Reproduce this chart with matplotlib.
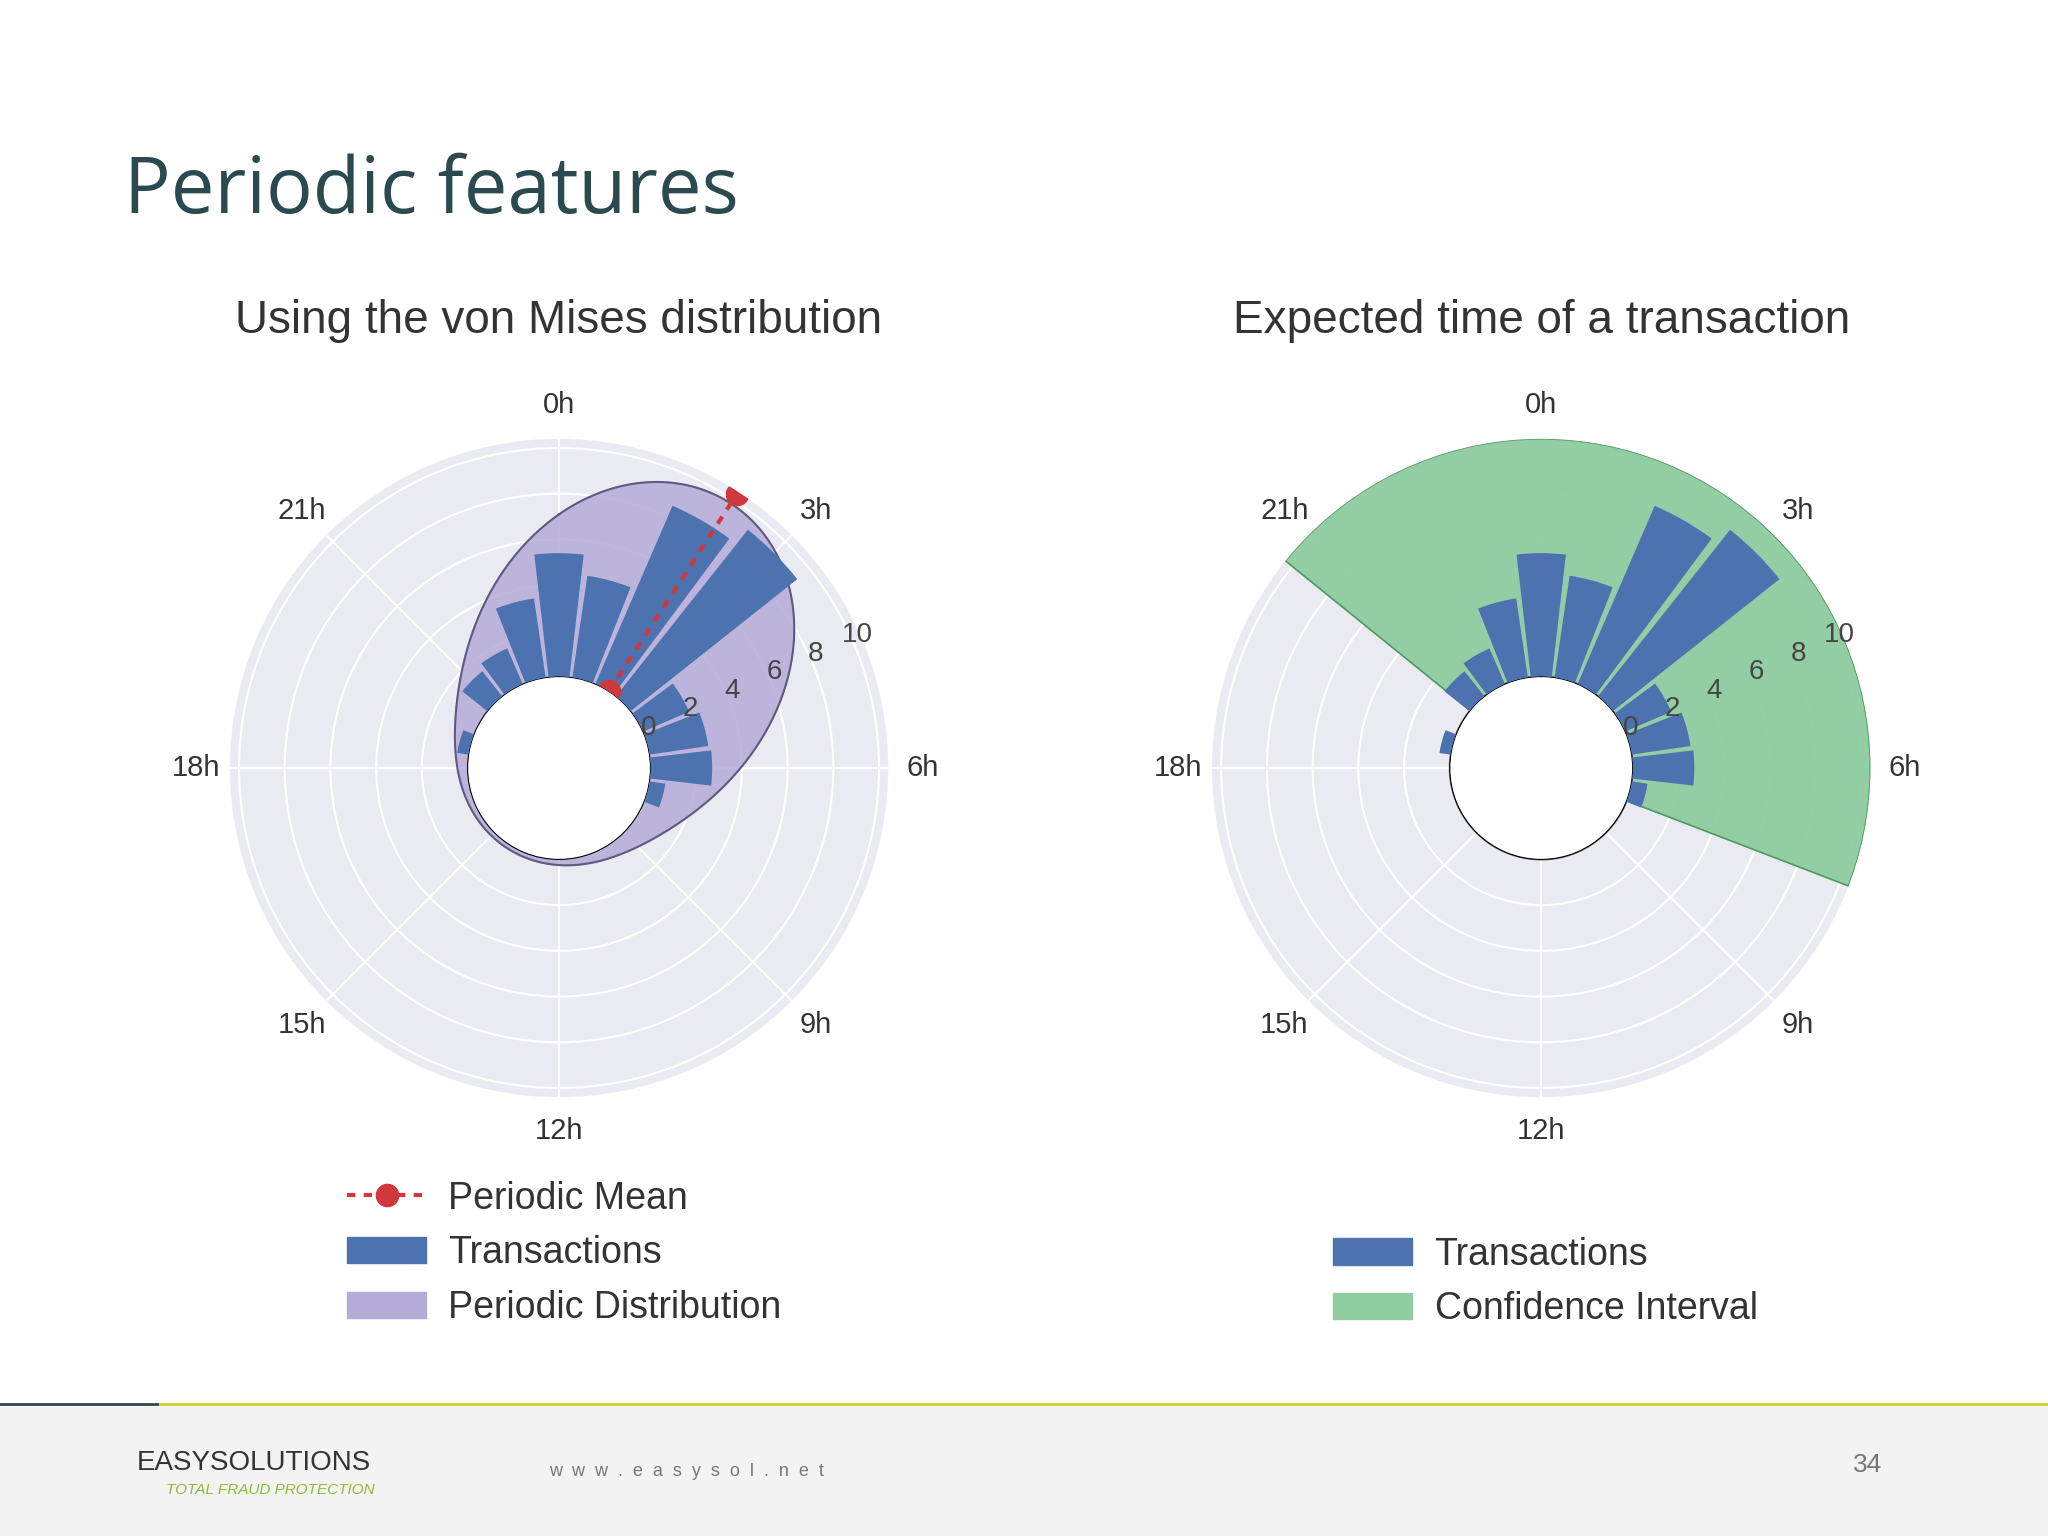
import numpy as np
import matplotlib
matplotlib.use("Agg")
from matplotlib import pyplot as plt
from matplotlib.patches import Patch, Rectangle
from matplotlib.lines import Line2D

# transactions per hour
hours = [19, 21, 22, 23, 0, 1, 2, 3, 4, 5, 6, 7]
counts = [0.5, 1.4, 1.7, 3.5, 5.4, 4.5, 8.5, 9.3, 2.2, 2.6, 2.7, 0.7]

# von Mises fit
vm_mean_h = 2.2
vm_peak = 9.8
vm_kappa = 2.0

# confidence interval (hours)
ci_start_h = 20.6
ci_end_h = 7.4

theta_labels = ['0h', '3h', '6h', '9h', '12h', '15h', '18h', '21h']
r_ticks = [0, 2, 4, 6, 8, 10]

blue = '#4C72B0'
purple = '#B4ABD6'
green = '#8FCC9F'
red = '#D0383D'
face = '#EAEAF2'

plt.rcParams['font.family'] = ['Liberation Sans', 'DejaVu Sans']

fig = plt.figure(figsize=(20.48, 15.36), dpi=100)
W, H = 1568, 1176


def h2rad(h):
    return np.asarray(h) * 2 * np.pi / 24


def make_polar(cx, cy, rad):
    ax = fig.add_axes([(cx - rad) / W, 1 - (cy + rad) / H, 2 * rad / W, 2 * rad / H],
                      projection='polar')
    ax.set_facecolor(face)
    ax.set_theta_zero_location('N')
    ax.set_theta_direction(-1)
    ax.set_rorigin(-4.0)
    ax.set_ylim(0, 10.4)
    ax.set_xticks(h2rad(np.arange(0, 24, 3)))
    ax.set_xticklabels(theta_labels, fontsize=21, color='#333333')
    ax.tick_params(axis='x', pad=14)
    ax.set_yticks(r_ticks)
    ax.set_yticklabels([])
    for t in r_ticks:
        ax.text(np.deg2rad(66), t + 0.3, str(t), fontsize=20, color='#444444',
                ha='center', va='center', zorder=6)
    ax.grid(color='white', linewidth=1.5)
    ax.spines['polar'].set_visible(False)
    ax.set_axisbelow(True)
    return ax


# left: von Mises
ax1 = make_polar(428, 588, 252)
th = np.linspace(0, 2 * np.pi, 400)
vm = vm_peak * np.exp(vm_kappa * (np.cos(th - h2rad(vm_mean_h)) - 1))
ax1.fill(th, vm, color=purple, alpha=0.85, zorder=2)
ax1.plot(th, vm, color='#5E5A80', lw=1.5, zorder=2)
ax1.bar(h2rad(hours), counts, width=h2rad(0.88), bottom=0, color=blue, zorder=3)
ax1.plot([h2rad(vm_mean_h)] * 2, [0, 10.3], color=red, ls=(0, (2, 2)), lw=3,
         marker='o', markersize=16, zorder=4, clip_on=True)
ax1.set_title('Using the von Mises distribution', fontsize=33, color='#333333', pad=76)

# right: confidence interval
ax2 = make_polar(1180, 588, 252)
ci = np.linspace(h2rad(ci_start_h - 24), h2rad(ci_end_h), 200)
ax2.fill_between(ci, 0, 10.4, color=green, alpha=0.95, zorder=2, lw=0)
ax2.plot(np.r_[ci[0], ci, ci[-1]], np.r_[0, np.full(len(ci), 10.4), 0],
         color='#4C9A5E', lw=1.2, zorder=2)
ax2.plot(th, np.zeros_like(th), color='#666677', lw=1.5, zorder=2)
ax2.bar(h2rad(hours), counts, width=h2rad(0.88), bottom=0, color=blue, zorder=3)
ax2.set_title('Expected time of a transaction', fontsize=33, color='#333333', pad=76)

# legends
h_mean = Line2D([], [], color=red, ls=(0, (2, 2)), lw=3, marker='o', markersize=16)
h_tr = Patch(color=blue)
h_pd = Patch(color=purple)
h_ci = Patch(color=green)
fig.legend([h_mean, h_tr, h_pd], ['Periodic Mean', 'Transactions', 'Periodic Distribution'],
           loc='upper left', bbox_to_anchor=(240 / W, 1 - 878 / H), frameon=False,
           fontsize=27, handlelength=2.1, handletextpad=0.6, labelspacing=0.5,
           labelcolor='#333333')
fig.legend([h_tr, h_ci], ['Transactions', 'Confidence Interval'],
           loc='upper left', bbox_to_anchor=(995 / W, 1 - 921 / H), frameon=False,
           fontsize=27, handlelength=2.1, handletextpad=0.6, labelspacing=0.5,
           labelcolor='#333333')

# slide decoration
fig.text(95 / W, 1 - 147 / H, 'Periodic features', fontsize=56, color='#2B4A50',
         family=['Open Sans', 'DejaVu Sans'], va='center')
fig.patches.append(Rectangle((0, 0), 1, 1 - 1075 / H, transform=fig.transFigure,
                             color='#F3F3F3', zorder=0))
fig.lines.append(Line2D([120 / W, 1], [1 - 1075 / H] * 2, transform=fig.transFigure,
                        color='#C8D62E', lw=2))
fig.lines.append(Line2D([0, 120 / W], [1 - 1075 / H] * 2, transform=fig.transFigure,
                        color='#2B4A50', lw=2))
fig.text(105 / W, 1 - 1120 / H, 'EASYSOLUTIONS', fontsize=20, color='#333333', va='center')
fig.text(127 / W, 1 - 1141 / H, 'TOTAL FRAUD PROTECTION', fontsize=11, color='#8DBB3A',
         va='center', style='italic')
fig.text(420 / W, 1 - 1127 / H, 'w  w  w  .  e  a  s  y  s  o  l  .  n  e  t', fontsize=13,
         color='#777777', va='center')
fig.text(1430 / W, 1 - 1122 / H, '34', fontsize=19, color='#777777', va='center', ha='center')

fig.savefig('out.png', dpi=100)
